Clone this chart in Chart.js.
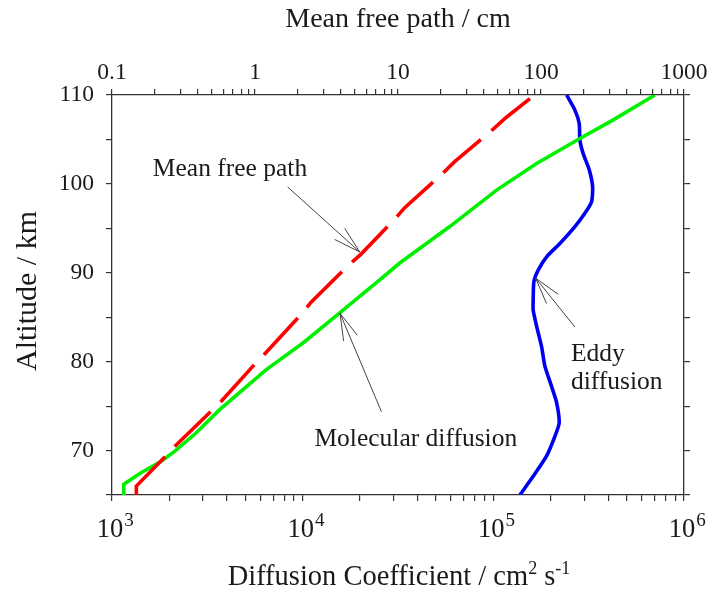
<!DOCTYPE html>
<html>
<head>
<meta charset="utf-8">
<script src="https://cdn.jsdelivr.net/npm/chart.js@4/dist/chart.umd.min.js"></script>
<style>
  html, body { margin: 0; padding: 0; background: #fff; }
</style>
</head>
<body>
<canvas id="chartDiff" width="712" height="591"></canvas>
<script>
// Perfiles de difusión vs altitud
// Camino libre medio (cm, eje superior)
const altMfp = [65, 66, 69, 70.4, 74.4, 75.5, 79.9, 81, 85.3, 86.7, 90.6, 92.1, 96, 97.3, 101.2, 102.5, 106.3, 107.5, 110];
const mfp    = [0.148, 0.148, 0.225, 0.272, 0.491, 0.577, 1.02, 1.19, 2.10, 2.47, 4.34, 5.52, 9.45, 11.1, 20.6, 24.9, 47.4, 57.3, 90];

// Difusión molecular (cm2/s, eje inferior)
const altMol = [65, 66.2, 67.5, 68.8, 69.9, 72, 74.6, 79.1, 82.1, 85.5, 89.2, 91.1, 95.2, 99.3, 102.3, 105.1, 107.2, 110];
const molDiff = [1153, 1153, 1420, 1812, 2129, 2767, 3668, 6446, 10040, 15640, 25360, 32300, 59100, 104000, 168600, 284500, 425600, 704000];

// Difusión turbulenta (eddy)
const altEddy = [65, 67.1, 69.4, 71.6, 73.1, 75.4, 77.2, 79.5, 81.7, 84.0, 85.8, 86.9, 89.0, 90.3, 91.8, 93.3, 95.2, 96.7, 98.0, 99.7, 101.6, 103.4, 104.9, 106.8, 108.3, 110];
const eddyDiff = [137800, 161800, 190300, 210300, 221500, 214700, 202100, 186400, 179100, 168600, 161800, 161800, 163200, 171900, 190300, 223400, 267800, 302100, 327700, 331600, 318400, 296000, 284500, 282100, 267800, 242300];

// Etiquetas de ejes
const topTickLabels = [0.1, 1, 10, 100, 1000];
const bottomExponents = [3, 4, 5, 6];
const altTicks = [65, 70, 75, 80, 85, 90, 95, 100, 105, 110];
const altLabels = [70, 80, 90, 100, 110];

// Flechas y textos (coordenadas en ejes x / y inferiores)
const notes = [
  {lines: ['Mean free path'], x: 1638, y: 100.9, align: 'left', from: [8345, 99.65], to: [19920, 92.34]},
  {lines: ['Molecular diffusion'], x: 39200, y: 70.55, align: 'center', from: [25890, 74.37], to: [15700, 85.44]},
  {lines: ['Eddy', 'diffusion'], x: 255200, y: 80.11, align: 'left', from: [267900, 83.9], to: [166500, 89.41]}
];

const SERIF = '"Liberation Serif", "Times New Roman", serif';
const INK = '#1a1a1a';
const AXIS = '#333';

function logTicks(lo, hi) {
  const out = [];
  for (let d = lo; d < hi * 0.999; d *= 10) {
    for (let m = 1; m < 10; m++) out.push(+(d * m).toPrecision(3));
  }
  out.push(hi);
  return out.map(v => ({value: v}));
}
const isPow10 = v => Math.abs(Math.log10(v) - Math.round(Math.log10(v))) < 1e-9;

const toXY = (xs, ys) => xs.map((x, i) => ({x: x, y: ys[i]}));

const gridOpts = {drawOnChartArea: false, drawTicks: true, tickLength: 6, color: AXIS, tickColor: AXIS, lineWidth: 1.2};
const borderOpts = {display: true, color: AXIS, width: 1.3};

// textos, etiquetas con superíndice y flechas
const decor = {
  id: 'decor',
  afterDraw(chart) {
    const ctx = chart.ctx, a = chart.chartArea;
    const sx = chart.scales.x, sy = chart.scales.y;
    ctx.save();
    ctx.fillStyle = INK;

    // etiquetas 10^n del eje inferior
    bottomExponents.forEach(e => {
      const px = sx.getPixelForValue(Math.pow(10, e));
      ctx.font = '26.5px ' + SERIF;
      const wBase = ctx.measureText('10').width;
      ctx.textAlign = 'left'; ctx.textBaseline = 'alphabetic';
      ctx.fillText('10', px - wBase / 2 - 2, 537);
      ctx.font = '19px ' + SERIF;
      ctx.fillText(String(e), px + wBase / 2 - 1, 526);
    });

    // título superior
    ctx.font = '28px ' + SERIF;
    ctx.textAlign = 'center';
    ctx.fillText('Mean free path / cm', (a.left + a.right) / 2, 27);

    // título izquierdo
    ctx.save();
    ctx.translate(36, (a.top + a.bottom) / 2 - 4);
    ctx.rotate(-Math.PI / 2);
    ctx.font = '30px ' + SERIF;
    ctx.textAlign = 'center';
    ctx.fillText('Altitude / km', 0, 0);
    ctx.restore();

    // título inferior con superíndices
    const parts = [['Diffusion Coefficient / cm', 28.5, 0], ['2', 18, -11], [' s', 28.5, 0], ['-1', 18, -11]];
    let total = 0;
    parts.forEach(p => { ctx.font = p[1] + 'px ' + SERIF; total += ctx.measureText(p[0]).width; });
    let cx = 399 - total / 2;
    ctx.textAlign = 'left';
    parts.forEach(p => {
      ctx.font = p[1] + 'px ' + SERIF;
      ctx.fillText(p[0], cx, 585 + p[2]);
      cx += ctx.measureText(p[0]).width;
    });

    // anotaciones
    ctx.font = '25.5px ' + SERIF;
    notes.forEach(n => {
      ctx.textAlign = n.align;
      const tx = sx.getPixelForValue(n.x), ty = sy.getPixelForValue(n.y);
      n.lines.forEach((s, i) => ctx.fillText(s, tx, ty + i * 28));

      const x0 = sx.getPixelForValue(n.from[0]), y0 = sy.getPixelForValue(n.from[1]);
      const x1 = sx.getPixelForValue(n.to[0]), y1 = sy.getPixelForValue(n.to[1]);
      const ang = Math.atan2(y0 - y1, x0 - x1);
      const len = 28, spread = 0.27;
      ctx.strokeStyle = '#444';
      ctx.lineWidth = 1;
      ctx.beginPath();
      ctx.moveTo(x0, y0); ctx.lineTo(x1, y1);
      ctx.moveTo(x1 + len * Math.cos(ang - spread), y1 + len * Math.sin(ang - spread));
      ctx.lineTo(x1, y1);
      ctx.lineTo(x1 + len * Math.cos(ang + spread), y1 + len * Math.sin(ang + spread));
      ctx.stroke();
    });
    ctx.restore();
  }
};

new Chart(document.getElementById('chartDiff'), {
  type: 'line',
  data: {
    datasets: [
      {label: 'Mean free path', data: toXY(mfp, altMfp), xAxisID: 'x2', yAxisID: 'y',
        borderColor: '#ff0000', borderWidth: 3.6, borderDash: [50, 14], pointRadius: 0, tension: 0},
      {label: 'Molecular diffusion', data: toXY(molDiff, altMol), xAxisID: 'x', yAxisID: 'y',
        borderColor: '#00f000', borderWidth: 3.6, pointRadius: 0, tension: 0},
      {label: 'Eddy diffusion', data: toXY(eddyDiff, altEddy), xAxisID: 'x', yAxisID: 'y',
        borderColor: '#0000f0', borderWidth: 3.6, pointRadius: 0, tension: 0.2}
    ]
  },
  options: {
    responsive: false, animation: false,
    layout: {padding: 0},
    plugins: {legend: {display: false}, tooltip: {enabled: false}},
    scales: {
      x: {type: 'logarithmic', position: 'bottom', min: 1e3, max: 1e6,
        afterBuildTicks: s => { s.ticks = logTicks(1e3, 1e6); },
        afterFit: s => { s.height = 96; },
        ticks: {display: false, autoSkip: false},
        grid: gridOpts, border: borderOpts},
      x2: {type: 'logarithmic', position: 'top', min: 0.1, max: 1000,
        afterBuildTicks: s => { s.ticks = logTicks(0.1, 1000); },
        afterFit: s => { s.height = 95; },
        ticks: {autoSkip: false, maxRotation: 0, padding: 2, color: INK, font: {family: SERIF, size: 23.5},
          callback: v => (isPow10(v) && topTickLabels.includes(+v.toPrecision(3))) ? String(+v.toPrecision(3)) : ''},
        grid: gridOpts, border: borderOpts},
      y: {type: 'linear', position: 'left', min: 65, max: 110,
        afterBuildTicks: s => { s.ticks = altTicks.map(v => ({value: v})); },
        afterFit: s => { s.width = 112; },
        ticks: {autoSkip: false, padding: 12, color: INK, font: {family: SERIF, size: 23.5},
          callback: v => altLabels.includes(v) ? String(v) : ''},
        grid: gridOpts, border: borderOpts},
      y2: {type: 'linear', position: 'right', min: 65, max: 110,
        afterBuildTicks: s => { s.ticks = altTicks.map(v => ({value: v})); },
        afterFit: s => { s.width = 28; },
        ticks: {display: false},
        grid: gridOpts, border: borderOpts}
    }
  },
  plugins: [decor]
});
</script>
</body>
</html>
